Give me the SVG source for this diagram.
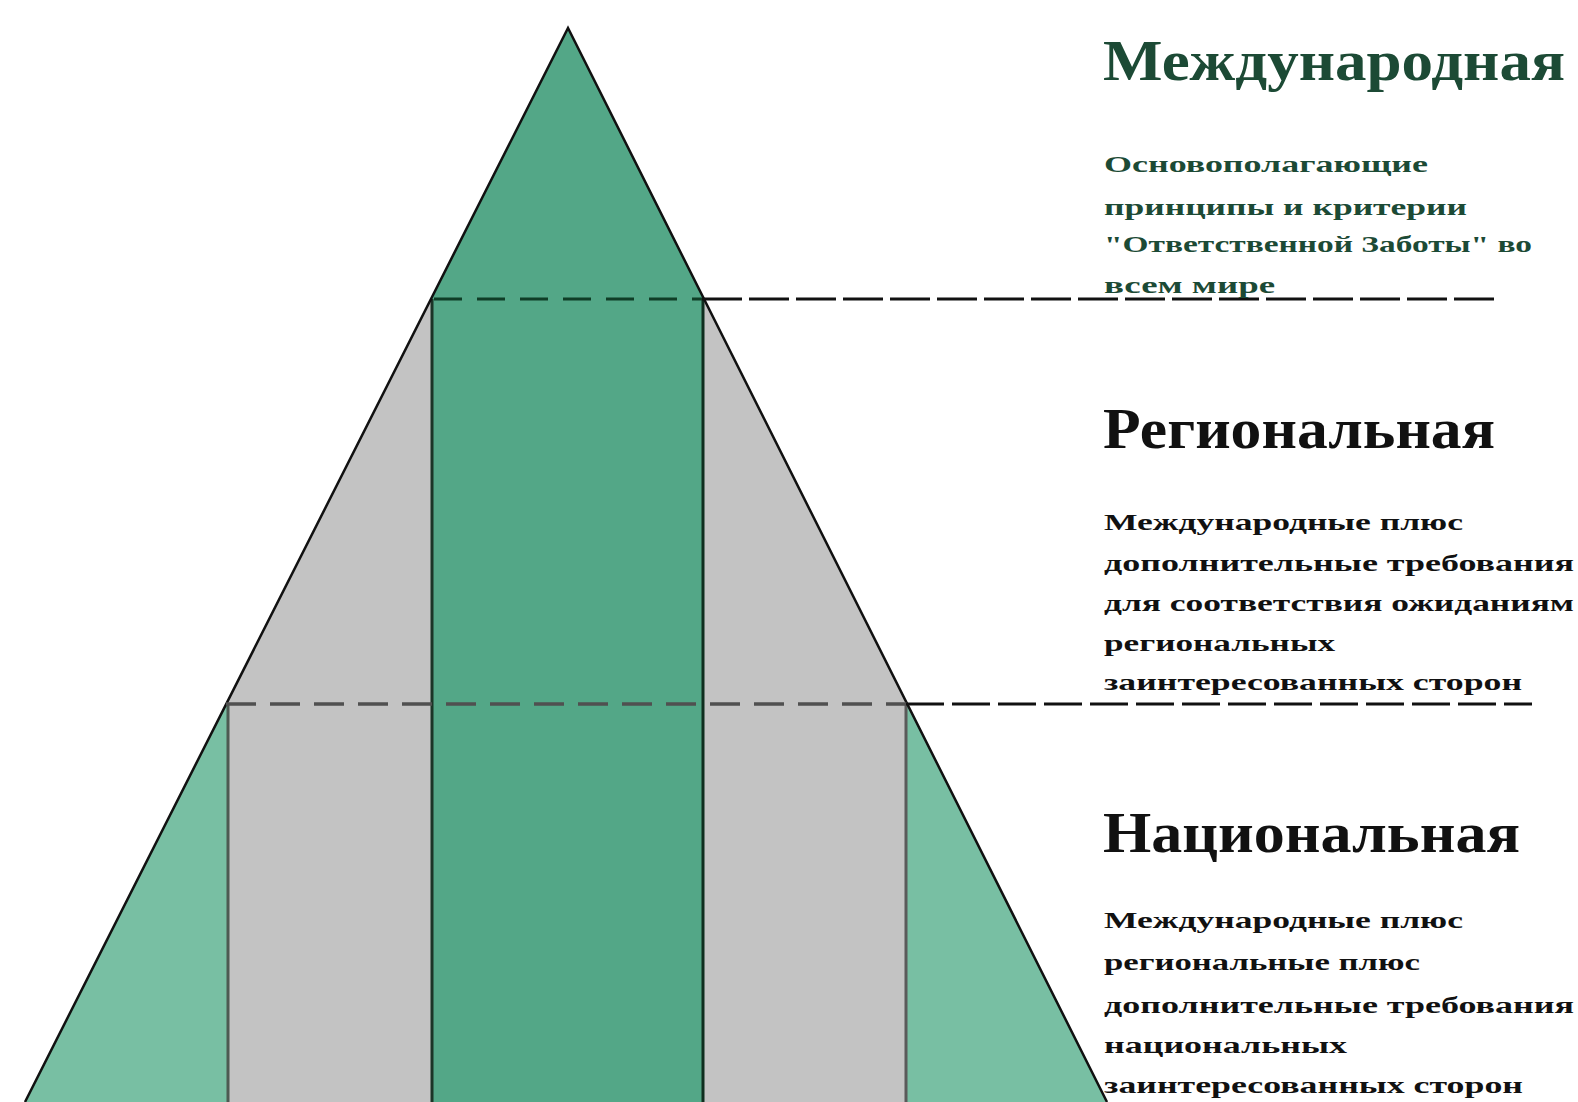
<svg xmlns="http://www.w3.org/2000/svg" width="1578" height="1102" viewBox="0 0 1578 1102">
<style>
.title{font-family:"Liberation Serif","DejaVu Serif",serif;font-weight:bold;font-size:56px}
.body{font-family:"Liberation Serif","DejaVu Serif",serif;font-weight:bold;font-size:24px}
.g{fill:#1c4a35}
.k{fill:#111}
.vline{stroke-width:3}
</style>
<rect width="1578" height="1102" fill="#fff"/>
<g id="pyramid">
  <polygon points="25,1102 226,704 907,704 1107,1102" fill="#78bfa3"/>
  <polygon points="431,299 704,299 907,704 907,1102 228,1102 228,704 226,704" fill="#c3c3c3"/>
  <polygon points="568,28 704,299 431,299" fill="#53a787"/>
  <rect x="432" y="299" width="271" height="803" fill="#53a787"/>
  <line x1="432" y1="299" x2="432" y2="1102" stroke="#1b3527" class="vline"/>
  <line x1="703" y1="299" x2="703" y2="1102" stroke="#0f2e1f" class="vline"/>
  <line x1="228" y1="704" x2="228" y2="1102" stroke="#4d5a52" class="vline"/>
  <line x1="906" y1="704" x2="906" y2="1102" stroke="#5a5a5a" class="vline"/>
  <polyline points="25,1102 568,28 1107,1102" fill="none" stroke="#111" stroke-width="2.5"/>
</g>
<g id="connectors">
  <line x1="434" y1="299" x2="702" y2="299" stroke="#0f3d26" stroke-width="3" stroke-dasharray="28 15"/>
  <line x1="702" y1="299" x2="1500" y2="299" stroke="#111" stroke-width="3" stroke-dasharray="40 7"/>
  <line x1="226" y1="704" x2="907" y2="704" stroke="#505050" stroke-width="3.5" stroke-dasharray="30 14"/>
  <line x1="906" y1="704" x2="1532" y2="704" stroke="#111" stroke-width="3" stroke-dasharray="38 8"/>
</g>
<g id="level-international">
  <text class="title g" x="1103" y="80" textLength="462" lengthAdjust="spacingAndGlyphs">Международная</text>
  <text class="body g" x="1104" y="172" textLength="324" lengthAdjust="spacingAndGlyphs">Основополагающие</text>
  <text class="body g" x="1104" y="215" textLength="363" lengthAdjust="spacingAndGlyphs">принципы и критерии</text>
  <text class="body g" x="1104" y="252" textLength="428" lengthAdjust="spacingAndGlyphs">"Ответственной Заботы" во</text>
  <text class="body g" x="1104" y="293" textLength="171" lengthAdjust="spacingAndGlyphs">всем мире</text>
</g>
<g id="level-regional">
  <text class="title k" x="1103" y="448" textLength="392" lengthAdjust="spacingAndGlyphs">Региональная</text>
  <text class="body k" x="1104" y="530" textLength="359" lengthAdjust="spacingAndGlyphs">Международные плюс</text>
  <text class="body k" x="1104" y="571" textLength="470" lengthAdjust="spacingAndGlyphs">дополнительные требования</text>
  <text class="body k" x="1104" y="611" textLength="470" lengthAdjust="spacingAndGlyphs">для соответствия ожиданиям</text>
  <text class="body k" x="1104" y="651" textLength="231" lengthAdjust="spacingAndGlyphs">региональных</text>
  <text class="body k" x="1104" y="690" textLength="418" lengthAdjust="spacingAndGlyphs">заинтересованных сторон</text>
</g>
<g id="level-national">
  <text class="title k" x="1103" y="852" textLength="417" lengthAdjust="spacingAndGlyphs">Национальная</text>
  <text class="body k" x="1104" y="928" textLength="359" lengthAdjust="spacingAndGlyphs">Международные плюс</text>
  <text class="body k" x="1104" y="970" textLength="316" lengthAdjust="spacingAndGlyphs">региональные плюс</text>
  <text class="body k" x="1104" y="1013" textLength="470" lengthAdjust="spacingAndGlyphs">дополнительные требования</text>
  <text class="body k" x="1104" y="1053" textLength="243" lengthAdjust="spacingAndGlyphs">национальных</text>
  <text class="body k" x="1104" y="1093" textLength="419" lengthAdjust="spacingAndGlyphs">заинтересованных сторон</text>
</g>
</svg>
